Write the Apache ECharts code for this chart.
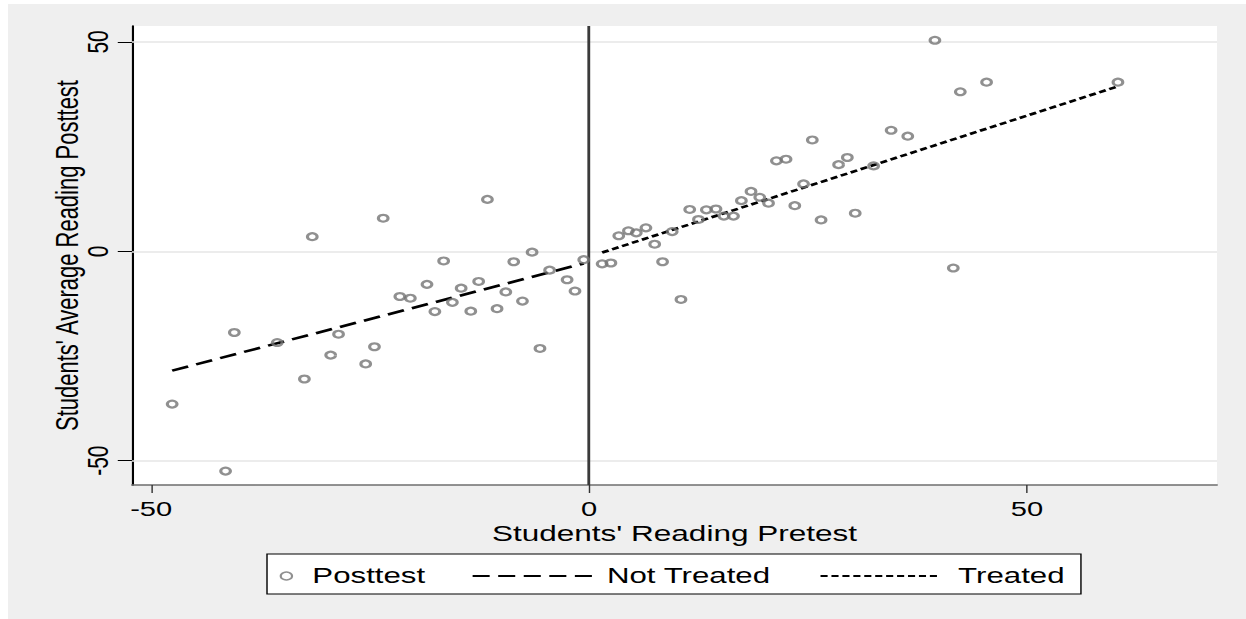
<!DOCTYPE html>
<html>
<head>
<meta charset="utf-8">
<script src="https://cdn.jsdelivr.net/npm/echarts@6/dist/echarts.min.js"></script>
<style>
  html, body { margin: 0; padding: 0; background: #fff; }
  /* The graph is laid out at its natural width and widened horizontally. */
  #chart {
    position: absolute; left: 8px; top: 4px;
    width: 872px; height: 615px;
    transform: scaleX(1.42); transform-origin: 0 0;
  }
</style>
</head>
<body>
<div id="chart"></div>
<script>
// Students' reading pretest (centred) and average reading posttest
const pretest = [-47.6, -41.5, -40.5, -35.6, -32.5, -31.6, -29.5, -28.6, -25.5, -24.5,
  -23.5, -21.6, -20.4, -18.5, -17.6, -16.6, -15.6, -14.6, -13.5, -12.6,
  -11.6, -10.5, -9.5, -8.6, -7.6, -6.5, -5.6, -4.5, -2.5, -1.6,
  -0.6, 1.5, 2.5, 3.4, 4.5, 5.4, 6.5, 7.5, 8.4, 9.5,
  10.5, 11.5, 12.5, 13.4, 14.5, 15.4, 16.5, 17.4, 18.5, 19.5,
  20.5, 21.4, 22.5, 23.5, 24.5, 25.5, 26.5, 28.5, 29.5, 30.4,
  32.5, 34.5, 36.4, 39.5, 41.6, 42.4, 45.4, 60.4];
const posttest = [-36.5, -52.5, -19.4, -21.8, -30.5, 3.5, -24.8, -19.8, -26.9, -22.8,
  7.9, -10.8, -11.2, -7.9, -14.4, -2.3, -12.2, -8.8, -14.3, -7.2,
  12.4, -13.7, -9.7, -2.5, -11.9, -0.2, -23.2, -4.5, -6.8, -9.5,
  -2.0, -3.0, -2.8, 3.7, 4.9, 4.4, 5.6, 1.7, -2.5, 4.7,
  -11.5, 10.0, 7.6, 9.9, 10.1, 8.4, 8.4, 12.1, 14.3, 12.9,
  11.5, 21.6, 22.0, 10.9, 16.1, 26.6, 7.5, 20.7, 22.4, 9.1,
  20.4, 28.9, 27.5, 50.4, -4.0, 38.1, 40.4, 40.4];

// Linear fits on each side of the cutoff
const notTreatedX = [-47.6, -0.6];
const notTreatedY = [-28.5, -2.9];
const treatedX = [1.5, 60.4];
const treatedY = [-0.3, 39.4];

const tickValues = [-50, 0, 50];
const cutoff = 0;

const xTitle = "Students' Reading Pretest";
const yTitle = "Students' Average Reading Posttest";
const legendNames = ['Posttest', 'Not Treated', 'Treated'];

const FONT = "'Liberation Sans', Arial, sans-serif";
const pairs = (xs, ys) => xs.map((x, i) => [x, ys[i]]);

const chart = echarts.init(document.getElementById('chart'), null, { renderer: 'svg' });

const legendText = { fontFamily: FONT, fontSize: 22, color: '#000' };

chart.setOption({
  animation: false,
  backgroundColor: '#efefef',
  grid: {
    left: 87.3, top: 22, width: 764.1, height: 459,
    show: true, backgroundColor: '#ffffff', borderWidth: 0
  },
  xAxis: {
    type: 'value', min: -52.19, max: 71.71,
    name: xTitle, nameLocation: 'middle', nameGap: 37, nameMoveOverlap: false,
    nameTextStyle: { fontFamily: FONT, fontSize: 22.2, color: '#000' },
    axisLine: { show: true, onZero: false, lineStyle: { color: '#6e6e6e', width: 1.5 } },
    axisTick: { show: true, length: 8, customValues: tickValues, lineStyle: { color: '#333', width: 1 } },
    axisLabel: { customValues: tickValues, margin: 13, fontFamily: FONT, fontSize: 20.5, color: '#000' },
    splitLine: { show: false }
  },
  yAxis: {
    type: 'value', min: -55.82, max: 53.81,
    name: yTitle, nameLocation: 'middle', nameGap: 34, nameRotate: 90, nameMoveOverlap: false,
    nameTextStyle: { fontFamily: FONT, fontSize: 22, color: '#000' },
    axisLine: { show: true, onZero: false, lineStyle: { color: '#000', width: 1.5 } },
    axisTick: { show: true, length: 10, customValues: tickValues, lineStyle: { color: '#000', width: 1 } },
    axisLabel: { customValues: tickValues, rotate: 90, margin: 14, fontFamily: FONT, fontSize: 21, color: '#000' },
    splitLine: { show: false }
  },
  legend: [
    {
      data: [{ name: legendNames[0] }], selectedMode: false,
      left: 191.3, top: 561, padding: 0, itemWidth: 26.6, itemHeight: 8,
      itemStyle: { borderWidth: 1.5 }, textStyle: legendText, z: 10
    },
    {
      data: [legendNames[1]], selectedMode: false,
      left: 326.2, top: 561, padding: 0, itemWidth: 84.1, itemHeight: 14,
      itemStyle: { opacity: 0 }, textStyle: Object.assign({ padding: [0, 0, 0, 5.5] }, legendText), z: 10
    },
    {
      data: [legendNames[2]], selectedMode: false,
      left: 571.2, top: 561, padding: 0, itemWidth: 82.2, itemHeight: 14,
      itemStyle: { opacity: 0 }, textStyle: Object.assign({ padding: [0, 0, 0, 9.7] }, legendText), z: 10
    }
  ],
  graphic: [{
    type: 'rect', silent: true, z: 1,
    shape: { x: 182.4, y: 550, width: 573.2, height: 40 },
    style: { fill: '#ffffff', stroke: '#000000', lineWidth: 1 }
  }],
  series: [
    {
      name: legendNames[0], type: 'scatter', z: 6,
      data: pairs(pretest, posttest),
      symbol: 'circle', symbolSize: 6.8,
      itemStyle: { color: 'rgba(0,0,0,0)', borderColor: '#747474', borderWidth: 2.2 },
      emphasis: { disabled: true },
      markLine: {
        silent: true, z: 1, symbol: 'none', animation: false,
        label: { show: false }, emphasis: { disabled: true },
        lineStyle: { color: '#e6e6e6', width: 1.5, type: 'solid' },
        data: tickValues.map(v => ({ yAxis: v })).concat([
          { xAxis: cutoff, lineStyle: { color: '#3a3a3a', width: 2, type: 'solid' } }
        ])
      }
    },
    {
      name: legendNames[1], type: 'line', z: 4,
      data: pairs(notTreatedX, notTreatedY),
      symbol: 'none', emphasis: { disabled: true },
      lineStyle: { color: '#000', width: 2.6, type: [12, 6] }
    },
    {
      name: legendNames[2], type: 'line', z: 4,
      data: pairs(treatedX, treatedY),
      symbol: 'none', emphasis: { disabled: true },
      lineStyle: { color: '#000', width: 2.6, type: [5, 2.7] }
    }
  ]
});
</script>
</body>
</html>
